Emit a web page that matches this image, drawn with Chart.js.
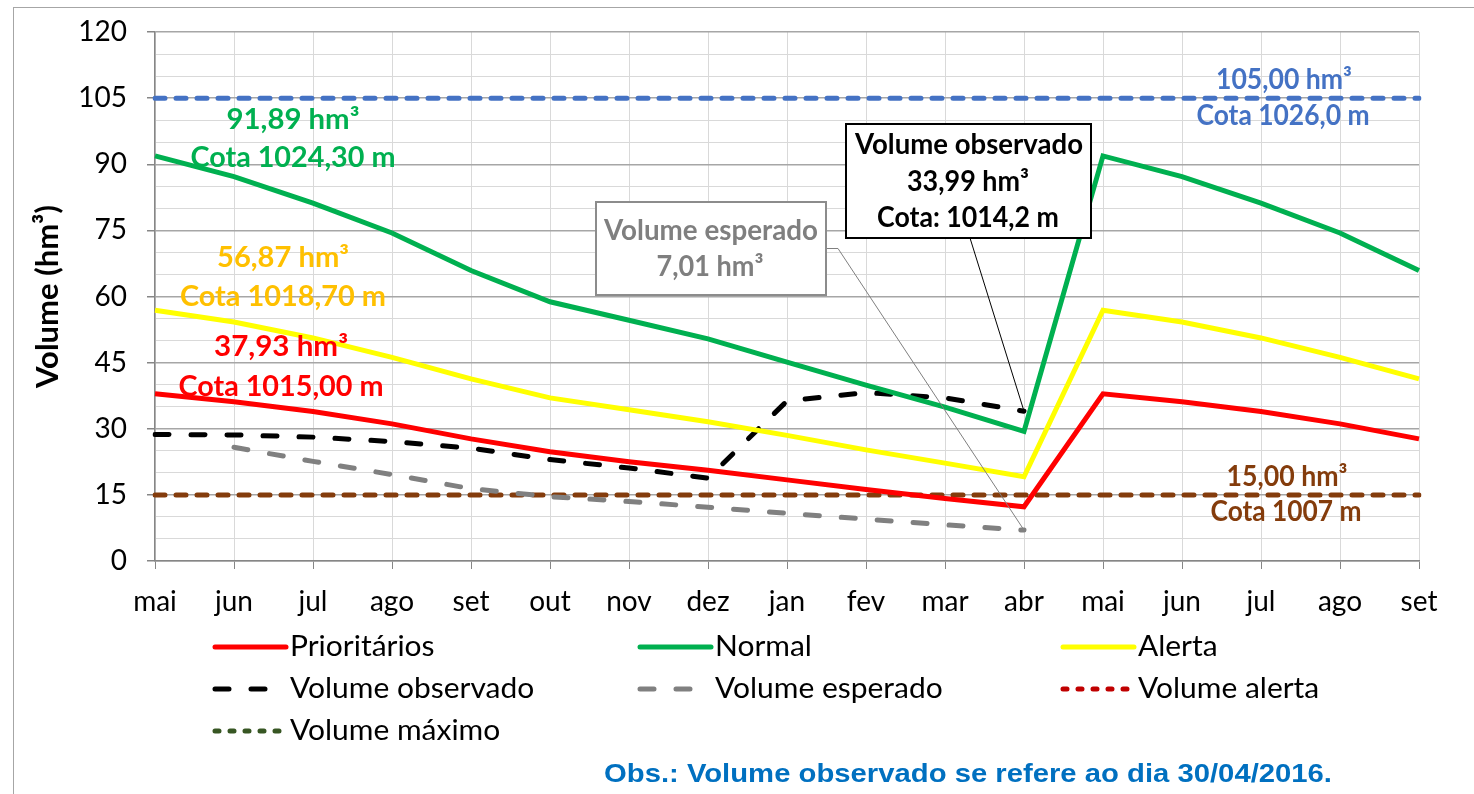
<!DOCTYPE html>
<html>
<head>
<meta charset="utf-8">
<script src="https://cdn.jsdelivr.net/npm/chart.js@4.4.1/dist/chart.umd.min.js"></script>
<style>
  html, body { margin: 0; padding: 0; background: #fff; }
  #wrap { width: 1474px; height: 794px; }
</style>
</head>
<body>
<div id="wrap"><canvas id="volume_chart" width="1474" height="794"></canvas></div>
<script>
'use strict';

// Data
const months = ['mai', 'jun', 'jul', 'ago', 'set', 'out', 'nov', 'dez', 'jan', 'fev', 'mar', 'abr', 'mai', 'jun', 'jul', 'ago', 'set'];
const prioritarios = [37.93, 36.1, 33.9, 31.1, 27.7, 24.8, 22.5, 20.6, 18.4, 16.2, 14.2, 12.3, 37.93, 36.1, 33.9, 31.1, 27.7];
const normal = [91.89, 87.2, 81.2, 74.4, 65.9, 58.8, 54.6, 50.4, 45.1, 39.9, 34.9, 29.4, 91.89, 87.2, 81.2, 74.4, 65.9];
const alerta = [56.87, 54.2, 50.6, 46.2, 41.3, 37.0, 34.3, 31.6, 28.5, 25.2, 22.2, 19.1, 56.87, 54.2, 50.6, 46.2, 41.3];
const volObservado = [28.7, 28.6, 28.1, 27.1, 25.6, 23.0, 21.1, 18.8, 36.3, 38.2, 37.0, 33.99, null, null, null, null, null];
const volEsperado = [null, 25.8, 22.6, 19.6, 16.4, 14.6, 13.5, 12.2, 10.8, 9.5, 8.2, 7.01, null, null, null, null, null];
const volAlerta = [15, 15, 15, 15, 15, 15, 15, 15, 15, 15, 15, 15, 15, 15, 15, 15, 15];
const volMaximo = [105, 105, 105, 105, 105, 105, 105, 105, 105, 105, 105, 105, 105, 105, 105, 105, 105];
const yTicks = [0, 15, 30, 45, 60, 75, 90, 105, 120];

const FONT = 'Lato';

// legend swatches use other colours than the plotted lines (as in the original sheet)
const legendColors = { 'Volume alerta': '#C00000', 'Volume máximo': '#375623' };

function lineSet(label, data, color, dash) {
  return {
    label: label,
    data: data,
    borderColor: color,
    backgroundColor: color,
    borderWidth: 5,
    borderDash: dash || [],
    borderCapStyle: dash ? 'round' : 'butt',
    pointRadius: 0,
    tension: 0,
    spanGaps: false
  };
}

// text squeezed/stretched to the width it has in the original sheet
function fitText(c, t, cx, cy, w, font, col) {
  c.save();
  c.font = font;
  c.fillStyle = col;
  c.textAlign = 'center';
  c.textBaseline = 'middle';
  const k = w / c.measureText(t).width;
  c.translate(cx, cy);
  c.scale(k, 1);
  c.fillText(t, 0, 0);
  c.restore();
}

// Frame + custom legend
const framePlugin = {
  id: 'frame',
  beforeDraw(chart) {
    const c = chart.ctx;
    c.save();
    c.fillStyle = '#fff';
    c.fillRect(0, 0, chart.width, chart.height);
    c.strokeStyle = '#A6A6A6';
    c.lineWidth = 1;
    c.strokeRect(13.5, 7.5, chart.width + 10, chart.height + 10);
    c.restore();
  },
  afterDraw(chart) {
    const c = chart.ctx;
    const cols = [212, 637, 1060];
    const rows = [647, 689, 731];
    c.save();
    c.font = '28px ' + FONT;
    c.textBaseline = 'middle';
    chart.data.datasets.forEach((ds, i) => {
      const x = cols[i % 3];
      const y = rows[Math.floor(i / 3)];
      c.beginPath();
      c.strokeStyle = legendColors[ds.label] || ds.borderColor;
      c.lineWidth = 5;
      c.lineCap = 'round';
      let sw = 74;
      if (ds.label === 'Volume alerta' || ds.label === 'Volume máximo') {
        c.setLineDash([4, 11]);
      } else if (ds.borderDash.length) {
        c.setLineDash([14, 22]);
        sw = 58;
      } else {
        c.setLineDash([]);
      }
      c.moveTo(x + 3, y);
      c.lineTo(x + sw, y);
      c.stroke();
      c.setLineDash([]);
      c.fillStyle = '#000';
      c.save();
      c.translate(x + 78, y);
      c.scale(1.07, 1);
      c.fillText(ds.label, 0, 0);
      c.restore();
    });
    c.restore();
  }
};

// Value labels and callouts
const notesPlugin = {
  id: 'notes',
  afterDatasetsDraw(chart) {
    const c = chart.ctx;
    const xs = chart.scales.x, ys = chart.scales.y;
    const bold = 'bold 28px ' + FONT;
    c.save();

    fitText(c, '91,89 hm³', 293, 120, 133, bold, '#00B050');
    fitText(c, 'Cota 1024,30 m', 293, 158, 205, bold, '#00B050');
    fitText(c, '56,87 hm³', 283, 258, 132, bold, '#FFC000');
    fitText(c, 'Cota 1018,70 m', 283, 297, 206, bold, '#FFC000');
    fitText(c, '37,93 hm³', 281, 347, 134, bold, '#FF0000');
    fitText(c, 'Cota 1015,00 m', 281, 387, 205, bold, '#FF0000');
    fitText(c, '105,00 hm³', 1284, 80, 136, bold, '#4472C4');
    fitText(c, 'Cota 1026,0 m', 1283, 116, 173, bold, '#4472C4');
    fitText(c, '15,00 hm³', 1287, 477, 121, bold, '#843C0C');
    fitText(c, 'Cota 1007 m', 1286, 512, 151, bold, '#843C0C');

    const abr = xs.getPixelForValue(11);
    // leaders
    c.lineWidth = 1;
    c.strokeStyle = '#808080';
    c.beginPath();
    c.moveTo(826, 248.5);
    c.lineTo(838, 248.5);
    c.lineTo(abr, ys.getPixelForValue(volEsperado[11]));
    c.stroke();
    c.strokeStyle = '#000';
    c.beginPath();
    c.moveTo(970, 238);
    c.lineTo(abr, ys.getPixelForValue(volObservado[11]));
    c.stroke();

    // boxes
    c.fillStyle = '#fff';
    c.fillRect(596, 202, 230, 93);
    c.strokeStyle = '#8C8C8C';
    c.lineWidth = 2;
    c.strokeRect(596, 202, 230, 93);
    fitText(c, 'Volume esperado', 711, 231, 214, bold, '#7F7F7F');
    fitText(c, '7,01 hm³', 710, 267, 107, bold, '#7F7F7F');

    c.fillStyle = '#fff';
    c.fillRect(846, 124, 245, 114);
    c.strokeStyle = '#000';
    c.strokeRect(846, 124, 245, 114);
    fitText(c, 'Volume observado', 969, 145, 228, bold, '#000');
    fitText(c, '33,99 hm³', 968, 182, 122, bold, '#000');
    fitText(c, 'Cota: 1014,2 m', 968, 218, 182, bold, '#000');

    // note under the legend
    fitText(c, 'Obs.: Volume observado se refere ao dia 30/04/2016.', 968, 775, 728, 'bold 25px "Liberation Sans"', '#0070C0');
    c.restore();
  }
};

new Chart(document.querySelector('#volume_chart'), {
  type: 'line',
  data: {
    labels: months,
    datasets: [
      lineSet('Prioritários', prioritarios, '#FF0000'),
      lineSet('Normal', normal, '#00B050'),
      lineSet('Alerta', alerta, '#FFFF00'),
      lineSet('Volume observado', volObservado, '#000000', [14, 22]),
      lineSet('Volume esperado', volEsperado, '#808080', [14, 22]),
      lineSet('Volume alerta', volAlerta, '#843C0C', [10, 11]),
      lineSet('Volume máximo', volMaximo, '#4472C4', [10, 11])
    ]
  },
  options: {
    responsive: false,
    animation: false,
    layout: {
      padding: { left: 0, right: 55, top: 32, bottom: 0 }
    },
    plugins: {
      legend: { display: false },
      tooltip: { enabled: false }
    },
    scales: {
      x: {
        offset: false,
        ticks: {
          color: '#000',
          font: { family: FONT, size: 28 },
          padding: 16,
          maxRotation: 0,
          autoSkip: false
        },
        grid: {
          color: '#D9D9D9',
          tickColor: '#868686',
          tickLength: 8
        },
        border: { color: '#868686', width: 1.5 },
        afterFit: s => { s.height = 233; }
      },
      y: {
        min: 0,
        max: 120,
        ticks: {
          stepSize: 5,
          autoSkip: false,
          color: '#000',
          font: { family: FONT, size: 28 },
          padding: 20,
          callback: v => yTicks.includes(v) ? v : ''
        },
        grid: {
          color: ctx => yTicks.includes(ctx.tick.value) ? '#A6A6A6' : '#D9D9D9',
          lineWidth: ctx => yTicks.includes(ctx.tick.value) ? 1.5 : 1,
          tickColor: ctx => yTicks.includes(ctx.tick.value) ? '#868686' : 'rgba(0,0,0,0)',
          tickLength: 8
        },
        border: { color: '#868686', width: 1.5 },
        title: {
          display: true,
          text: 'Volume (hm³)',
          color: '#000',
          font: { family: FONT, size: 31, weight: 'bold' },
          padding: { top: 29, bottom: 0 }
        },
        afterFit: s => {
          s.width = 155;
          s.paddingTop = 0;
          s.paddingBottom = 0;
        }
      }
    }
  },
  plugins: [framePlugin, notesPlugin]
});
</script>
</body>
</html>
